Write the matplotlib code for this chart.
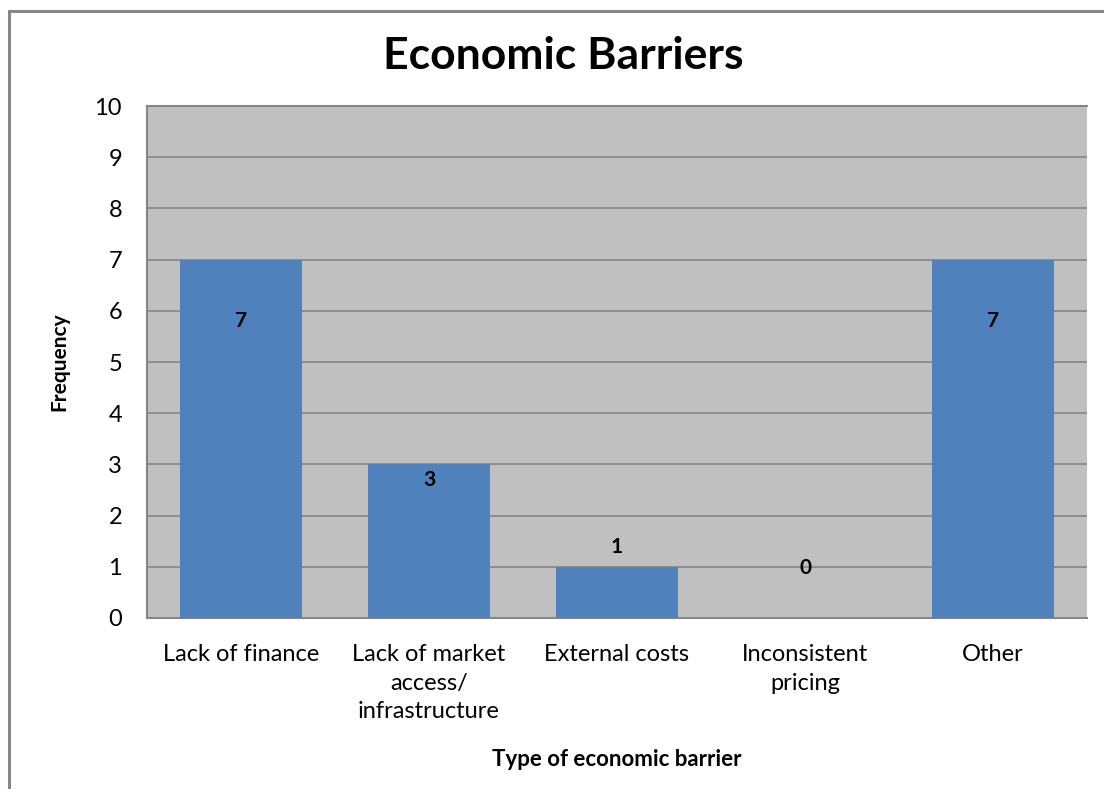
import matplotlib.pyplot as plt
from matplotlib.patches import Rectangle

categories = ['Lack of finance', 'Lack of market\naccess/\ninfrastructure',
              'External costs', 'Inconsistent\npricing', 'Other']
frequency = [7, 3, 1, 0, 7]
# where each data label sits relative to its bar top (data units)
label_offset = [-1.2, -0.3, 0.38, 0.98, -1.2]

plt.rcParams['font.family'] = ['Lato', 'DejaVu Sans']

fig = plt.figure(figsize=(11.04, 7.89), dpi=100)
ax = fig.add_axes([147 / 1104, 1 - 618 / 789, 940 / 1104, 512 / 789])

# outer chart border (runs off the right and bottom edges)
fig.patches.append(Rectangle((9 / 1104, -0.05), 1.2, 1 - 11 / 789 + 0.05,
                             transform=fig.transFigure, fill=False,
                             edgecolor='#868686', linewidth=2.2))

ax.set_facecolor('#c0c0c0')
x = range(len(categories))
ax.bar(x, frequency, width=0.65, color='#4f81bd', zorder=3)
ax.set_xlim(-0.5, len(categories) - 0.5)
ax.set_ylim(0, 10)
ax.set_yticks(range(0, 11))
ax.yaxis.grid(True, color='#868686', linewidth=1.2, zorder=1)

for i, v in enumerate(frequency):
    ax.text(i, v + label_offset[i], str(v), ha='center', va='center',
            fontsize=15, fontweight='bold', zorder=4)

for s in ['right']:
    ax.spines[s].set_visible(False)
for s in ['left', 'bottom', 'top']:
    ax.spines[s].set_color('#868686')
    ax.spines[s].set_linewidth(1.5)

ax.tick_params(axis='both', length=0, labelsize=17)
ax.tick_params(axis='y', pad=18)
ax.tick_params(axis='x', pad=19)
ax.set_xticks(list(x))
ax.set_xticklabels(categories, linespacing=1.42, va='top')

ax.set_ylabel('Frequency', fontsize=15, fontweight='bold', labelpad=18)
ax.set_xlabel('Type of economic barrier', fontsize=16, fontweight='bold', labelpad=20)
fig.text(563 / 1104, 1 - 56 / 789, 'Economic Barriers', ha='center', va='center',
         fontsize=32, fontweight='bold')

fig.savefig('out.png', dpi=100)
